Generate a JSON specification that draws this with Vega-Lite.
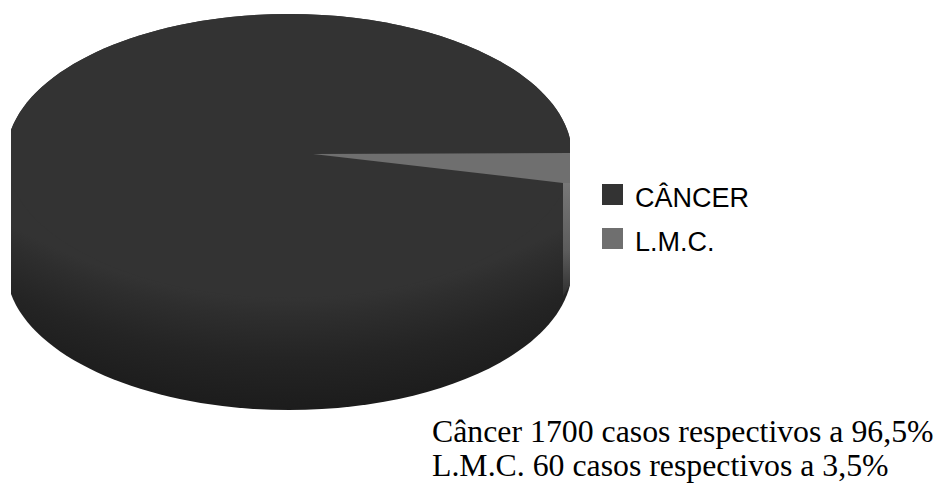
{
  "$schema": "https://vega.github.io/schema/vega-lite/v6.json",
  "width": 938,
  "height": 483,
  "autosize": {"type": "none"},
  "padding": 0,
  "background": "white",
  "config": {"view": {"stroke": null}},
  "data": {"values": [
    {"doenca": "CÂNCER", "casos": 1700, "percentual": 96.5, "nota": "Câncer 1700 casos respectivos a 96,5%"},
    {"doenca": "L.M.C.", "casos": 60, "percentual": 3.5, "nota": "L.M.C. 60 casos respectivos a 3,5%"}
  ]},
  "encoding": {
    "x": {"datum": 289, "type": "quantitative", "scale": {"domain": [0, 938], "nice": false, "zero": false}, "axis": null},
    "y": {"datum": 156, "type": "quantitative", "scale": {"domain": [483, 0], "nice": false, "zero": false}, "axis": null}
  },
  "layer": [
    {
      "mark": {"type": "point", "filled": true, "opacity": 1, "size": 1, "shape": "square"},
      "encoding": {
        "color": {
          "field": "doenca",
          "type": "nominal",
          "scale": {"domain": ["CÂNCER", "L.M.C."], "range": ["#333333", "#6f6f6f"]},
          "legend": {
            "title": null,
            "orient": "none",
            "legendX": 599,
            "legendY": 181,
            "symbolType": "square",
            "symbolSize": 441,
            "symbolOpacity": 1,
            "symbolStrokeWidth": 0,
            "labelFont": "Liberation Sans",
            "labelFontSize": 27,
            "labelColor": "#000000",
            "labelLimit": 300,
            "labelOffset": 9,
            "rowPadding": 13,
            "encode": {"labels": {"update": {"dy": {"value": 4}}}}
          }
        }
      }
    },
    {
      "transform": [{"filter": "datum.doenca === 'CÂNCER'"}],
      "mark": {
        "type": "point",
        "filled": true,
        "opacity": 1,
        "size": 4,
        "shape": "M-278,-26 C-253.1,-93.2 -136.2,-142 0,-142 C143.2,-142 263.8,-88.3 281,-17 L281,129 C263.8,200.3 143.2,254 0,254 C-136.2,254 -253.1,205.2 -278,138 Z",
        "fill": {
          "gradient": "radial",
          "x1": 0.497, "y1": -0.355, "r1": 0,
          "x2": 0.497, "y2": -0.355, "r2": 1.252,
          "stops": [
            {"offset": 0, "color": "#333333"},
            {"offset": 0.806, "color": "#333333"},
            {"offset": 0.831, "color": "#2e2e2e"},
            {"offset": 0.874, "color": "#272727"},
            {"offset": 0.893, "color": "#242424"},
            {"offset": 0.966, "color": "#1c1c1c"},
            {"offset": 1, "color": "#1a1a1a"}
          ]
        }
      }
    },
    {
      "transform": [{"filter": "datum.doenca === 'CÂNCER'"}],
      "mark": {
        "type": "point",
        "filled": true,
        "opacity": 1,
        "size": 4,
        "shape": "M-278,-26 C-253.1,-93.2 -136.2,-142 0,-142 C143.2,-142 263.8,-88.3 281,-17 L281,17 C263.8,88.3 143.2,142 0,142 C-136.2,142 -253.1,93.2 -278,26 Z"
      },
      "encoding": {
        "color": {"field": "doenca", "type": "nominal", "legend": null}
      }
    },
    {
      "transform": [{"filter": "datum.doenca === 'L.M.C.'"}],
      "mark": {
        "type": "point",
        "filled": true,
        "opacity": 1,
        "size": 4,
        "shape": "M24,-2 L281,-3 L281,27 L274,27 Z"
      },
      "encoding": {
        "color": {"field": "doenca", "type": "nominal", "legend": null}
      }
    },
    {
      "transform": [{"filter": "datum.doenca === 'L.M.C.'"}],
      "mark": {
        "type": "point",
        "filled": true,
        "opacity": 1,
        "size": 4,
        "shape": "M274,27 L281,27 L281,129 L274,140 Z",
        "fill": {
          "gradient": "linear",
          "x1": 0, "y1": 0, "x2": 0, "y2": 1,
          "stops": [
            {"offset": 0, "color": "#787878"},
            {"offset": 0.6, "color": "#5c5c5c"},
            {"offset": 1, "color": "#303030"}
          ]
        }
      }
    },
    {
      "transform": [{"filter": "datum.doenca === 'CÂNCER'"}],
      "mark": {"type": "text", "align": "left", "baseline": "alphabetic", "font": "Liberation Serif", "fontSize": 31.8, "color": "#000000"},
      "encoding": {
        "x": {"datum": 432, "type": "quantitative"},
        "y": {"datum": 442, "type": "quantitative"},
        "text": {"field": "nota", "type": "nominal"}
      }
    },
    {
      "transform": [{"filter": "datum.doenca === 'L.M.C.'"}],
      "mark": {"type": "text", "align": "left", "baseline": "alphabetic", "font": "Liberation Serif", "fontSize": 31.8, "color": "#000000"},
      "encoding": {
        "x": {"datum": 432, "type": "quantitative"},
        "y": {"datum": 476, "type": "quantitative"},
        "text": {"field": "nota", "type": "nominal"}
      }
    }
  ]
}
